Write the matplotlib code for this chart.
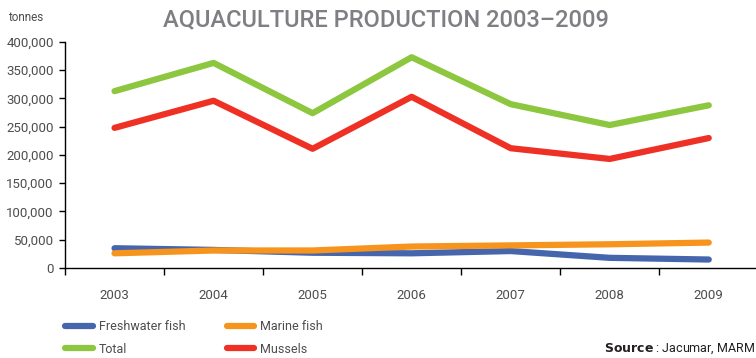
import matplotlib
matplotlib.use("Agg")
import matplotlib.pyplot as plt
import numpy as np

plt.rcParams['font.family'] = ['Roboto', 'DejaVu Sans']

years = ['2003', '2004', '2005', '2006', '2007', '2008', '2009']
freshwater = [35000, 32000, 27000, 26000, 30000, 18000, 15000]
marine = [26000, 31000, 31000, 38000, 40000, 42000, 45000]
total = [313000, 363000, 274000, 373000, 290000, 253000, 288000]
mussels = [248000, 296000, 211000, 303000, 212000, 193000, 230000]

c_blue = '#4565ad'
c_orange = '#f7941d'
c_green = '#8dc63f'
c_red = '#ee3124'
c_text = '#4d4d4f'

fig = plt.figure(figsize=(7.56, 3.58), dpi=100)
ax = fig.add_axes([0.086, 0.2514, 0.917, 0.6313])

x = np.arange(len(years))
lw = 4.5
l_fw, = ax.plot(x, freshwater, color=c_blue, lw=lw, solid_capstyle='round', label='Freshwater fish')
l_ma, = ax.plot(x, marine, color=c_orange, lw=lw, solid_capstyle='round', label='Marine fish')
l_to, = ax.plot(x, total, color=c_green, lw=lw, solid_capstyle='round', label='Total')
l_mu, = ax.plot(x, mussels, color=c_red, lw=lw, solid_capstyle='round', label='Mussels')

ax.set_xlim(-0.5, len(years) - 0.5)
ax.set_ylim(0, 400000)
ax.set_yticks(np.arange(0, 400001, 50000))
ax.set_yticklabels(['{:,}'.format(v) for v in range(0, 400001, 50000)])

# boundary ticks, labels in the middle of each category
ax.set_xticks(np.arange(-0.5, len(years), 1))
ax.set_xticklabels([])
ax.set_xticks(x, minor=True)
ax.set_xticklabels(years, minor=True)
ax.tick_params(axis='x', which='major', length=5, width=1, direction='out')
ax.tick_params(axis='x', which='minor', length=0, pad=15, labelsize=9.5, labelcolor=c_text)
ax.tick_params(axis='y', length=4, width=1, labelsize=9.5, labelcolor=c_text, pad=4)

for s in ['top', 'right']:
    ax.spines[s].set_visible(False)
ax.spines['left'].set_linewidth(1)
ax.spines['bottom'].set_linewidth(1)

fig.text(0.51, 0.945, 'AQUACULTURE PRODUCTION 2003\u20132009', ha='center', va='center',
         fontsize=17, fontweight='medium', color='#7f7f83')
fig.text(0.011, 0.952, 'tonnes', ha='left', va='center', fontsize=8.5, color=c_text)

leg_h = [l_fw, l_to, l_ma, l_mu]
leg_l = ['Freshwater fish', 'Total', 'Marine fish', 'Mussels']
fig.legend(leg_h, leg_l, ncol=2, loc='upper left', bbox_to_anchor=(0.086, 0.105), frameon=False,
           fontsize=9, handlelength=2.2, columnspacing=3.3, labelspacing=0.75,
           handletextpad=0.5, labelcolor=c_text, borderaxespad=0, borderpad=0)

fig.text(0.999, 0.025, r'$\bf{Source}$ : Jacumar, MARM', ha='right', va='center',
         fontsize=9, color='#231f20')

fig.savefig('out.png', dpi=100)
